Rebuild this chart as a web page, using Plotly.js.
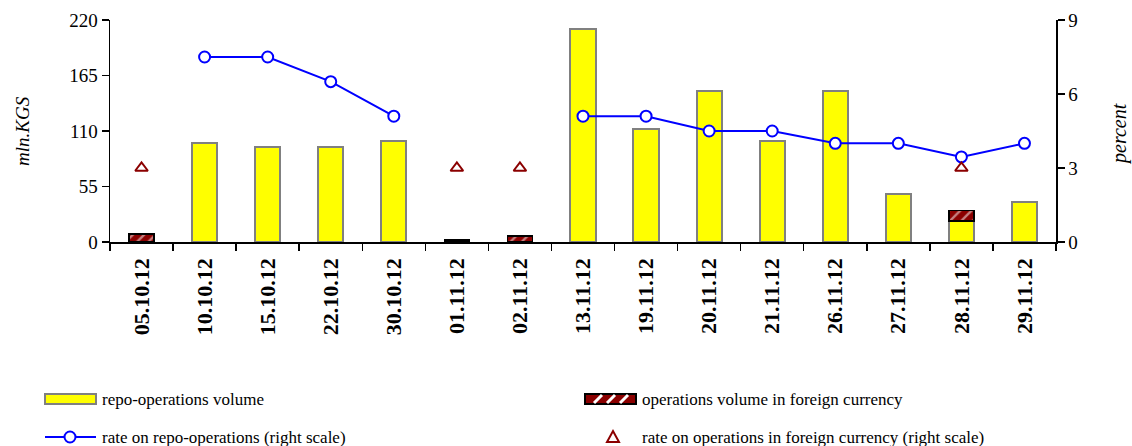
<!DOCTYPE html>
<html><head><meta charset="utf-8">
<script src="https://cdn.plot.ly/plotly-3.0.1.min.js"></script>
<style>body{margin:0;background:#fff}#c{width:1132px;height:446px}</style>
</head><body><div id="c"></div>
<script>
const dates = ["05.10.12","10.10.12","15.10.12","22.10.12","30.10.12","01.11.12","02.11.12","13.11.12","19.11.12","20.11.12","21.11.12","26.11.12","27.11.12","28.11.12","29.11.12"];
const repoVolume = [null,98,94,94,100,null,null,211,112,150,100,150,48,21,40];
const foreignVolume = [8,null,null,null,null,2,6,null,null,null,null,null,null,10,null];
const repoRate = [null,7.5,7.5,6.5,5.1,null,null,5.1,5.1,4.5,4.5,4.0,4.0,3.45,4.0];
const foreignRate = [3,null,null,null,null,3,3,null,null,null,null,null,null,3,null];
const legendLabels = ["repo-operations volume","operations volume in foreign currency",
  "rate on repo-operations (right scale)","rate on operations in foreign currency (right scale)"];

const serif = "Liberation Serif, Times New Roman, serif";
const W = 1132, H = 446, ML = 110, MR = 76, MT = 20, MB = 204;
const PW = W - ML - MR, PH = H - MT - MB;
const px = v => (v - ML) / PW;
const py = v => (H - MB - v) / PH;

const traces = [
  {type:'bar', x:dates, y:repoVolume, name:legendLabels[0],
   marker:{color:'#FFFF00', line:{color:'#808080', width:2}}, yaxis:'y'},
  {type:'bar', x:dates, y:foreignVolume, name:legendLabels[1],
   marker:{color:'#8B0000', line:{color:'#000000', width:1.5},
   pattern:{shape:'/', bgcolor:'#8B0000', fgcolor:'#FFFFFF', size:8, solidity:0.3, fillmode:'overlay'}}, yaxis:'y'},
  {type:'scatter', mode:'lines+markers', x:dates, y:repoRate, name:legendLabels[2],
   line:{color:'#0000FF', width:2}, connectgaps:false,
   marker:{symbol:'circle', size:11, color:'#FFFFFF', line:{color:'#0000FF', width:2}}, yaxis:'y2'},
  {type:'scatter', mode:'markers', x:dates, y:foreignRate, name:legendLabels[3],
   marker:{symbol:'triangle-up-open', size:11, color:'#8B0000', line:{color:'#8B0000', width:2}}, yaxis:'y2'}
];

const shapes = [];
const annotations = [];
shapes.push({type:'rect', xref:'paper', yref:'paper', x0:px(45), x1:px(96), y0:py(404), y1:py(394),
  fillcolor:'#FFFF00', line:{color:'#808080', width:2}});
shapes.push({type:'rect', xref:'paper', yref:'paper', x0:px(585), x1:px(636), y0:py(404), y1:py(394),
  fillcolor:'#8B0000', line:{color:'#000000', width:2}});
[598, 611, 624].forEach(c => {
  shapes.push({type:'line', xref:'paper', yref:'paper', x0:px(c-4), x1:px(c+4), y0:py(403), y1:py(395),
    line:{color:'#FFFFFF', width:3}});
});
shapes.push({type:'line', xref:'paper', yref:'paper', x0:px(45), x1:px(96), y0:py(437), y1:py(437),
  line:{color:'#0000FF', width:2}});
shapes.push({type:'circle', xref:'paper', yref:'paper', x0:px(64.5), x1:px(75.5), y0:py(442.5), y1:py(431.5),
  fillcolor:'#FFFFFF', line:{color:'#0000FF', width:2}});
shapes.push({type:'path', xref:'paper', yref:'paper',
  path:`M ${px(607)} ${py(442)} L ${px(619)} ${py(442)} L ${px(613)} ${py(431)} Z`,
  fillcolor:'rgba(0,0,0,0)', line:{color:'#8B0000', width:2}});

const legPos = [[100,399],[640,399],[100,437],[640,437]];
legendLabels.forEach((t,i) => {
  annotations.push({xref:'paper', yref:'paper', x:px(legPos[i][0]), y:py(legPos[i][1]),
    xanchor:'left', yanchor:'middle', text:t, showarrow:false,
    font:{family:serif, size:17, color:'#000'}});
});
annotations.push({xref:'paper', yref:'paper', x:px(22), y:py(131), text:'<i>mln.KGS</i>', textangle:-90,
  showarrow:false, xanchor:'center', yanchor:'middle', font:{family:serif, size:19, color:'#000'}});
annotations.push({xref:'paper', yref:'paper', x:px(1119), y:py(134), text:'<i>percent</i>', textangle:-90,
  showarrow:false, xanchor:'center', yanchor:'middle', font:{family:serif, size:20, color:'#000'}});

const layout = {
  width:W, height:H,
  margin:{l:ML, r:MR, t:MT, b:MB, autoexpand:false},
  paper_bgcolor:'#fff', plot_bgcolor:'#fff',
  barmode:'stack', bargap:0.6,
  showlegend:false,
  font:{family:serif, color:'#000', size:15},
  xaxis:{type:'category', range:[-0.5, dates.length-0.5], automargin:false, showline:true, linecolor:'#000', linewidth:1.5,
    ticks:'outside', tickson:'boundaries', ticklen:7, tickcolor:'#000', tickwidth:1.5, ticklabelstandoff:6,
    tickangle:-90, tickfont:{family:serif, size:22, color:'#000', weight:'bold'},
    showgrid:false, zeroline:false},
  yaxis:{range:[0,220], tickvals:[0,55,110,165,220], automargin:false, showline:true, linecolor:'#000', linewidth:1.5,
    ticks:'outside', ticklen:7, tickcolor:'#000', tickwidth:1.5, showgrid:false, zeroline:false,
    tickfont:{family:serif, size:19, color:'#000'}},
  yaxis2:{range:[0,9], tickvals:[0,3,6,9], overlaying:'y', side:'right', automargin:false, showline:true, linecolor:'#000', linewidth:1.5,
    ticks:'outside', ticklen:7, tickcolor:'#000', tickwidth:1.5, showgrid:false, zeroline:false,
    tickfont:{family:serif, size:19, color:'#000'}},
  shapes:shapes, annotations:annotations
};
Plotly.newPlot('c', traces, layout, {displayModeBar:false, staticPlot:true});
</script></body></html>
